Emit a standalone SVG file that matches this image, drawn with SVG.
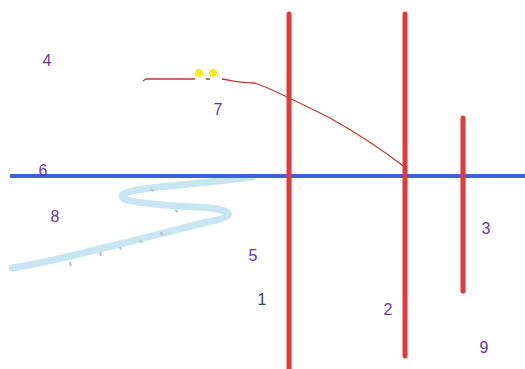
<svg xmlns="http://www.w3.org/2000/svg" width="525" height="369" viewBox="0 0 525 369">
<style>
.lbl{font-family:"Liberation Sans",Arial,sans-serif;font-size:16px;fill:#6b35a8;text-anchor:middle}
.red{stroke:#e5383b;stroke-width:5;stroke-linecap:round;fill:none}
</style>
<rect width="525" height="369" fill="#ffffff"/>
<g id="connectors">
<path id="river" d="M252,177 C220,181 180,185 150,188 C125,191 115,196 127,200 C145,205 180,206 210,208 C235,211 235,218 207,222 C180,229 150,236 120,244 C80,254 40,264 12,268" stroke="#c8e6f2" stroke-width="7" fill="none" stroke-linecap="round"/>
<path d="M150,189 l4,2 M175,210 l3,2 M140,240 l2,3 M100,252 l1,4 M70,262 l1,4 M160,233 l3,1 M120,247 l1,3" stroke="#b8c0c4" stroke-width="2" fill="none"/>
<line id="hline" x1="10" y1="176" x2="525" y2="176" stroke="#3a62e0" stroke-width="4"/>
<line class="red" x1="289" y1="14" x2="289" y2="369"/>
<line class="red" x1="405" y1="14" x2="405" y2="356"/>
<line class="red" x1="463" y1="118" x2="463" y2="291"/>
<path id="curve" d="M143,81 L146,79 L195,79 M206,79 L210,79 M222,79 C230,80 240,83 255,83 C270,88 300,103 330,118 C355,132 380,148 406,168" stroke="#c0392b" stroke-width="1.3" fill="none"/>
</g>
<g id="dots">
<circle cx="199" cy="73" r="4" fill="#f5ee1a"/>
<circle cx="213" cy="73" r="4" fill="#f5ee1a"/>
</g>
<g id="n4"><text class="lbl" x="47" y="66">4</text></g>
<g id="n7"><text class="lbl" x="218" y="115">7</text></g>
<g id="n6"><text class="lbl" x="43" y="176">6</text></g>
<g id="n8"><text class="lbl" x="55" y="222">8</text></g>
<g id="n5"><text class="lbl" x="253" y="261">5</text></g>
<g id="n1"><text class="lbl" x="262" y="305" style="fill:#2c4a5a">1</text></g>
<g id="n2"><text class="lbl" x="388" y="315">2</text></g>
<g id="n3"><text class="lbl" x="486" y="234">3</text></g>
<g id="n9"><text class="lbl" x="484" y="353">9</text></g>
</svg>
